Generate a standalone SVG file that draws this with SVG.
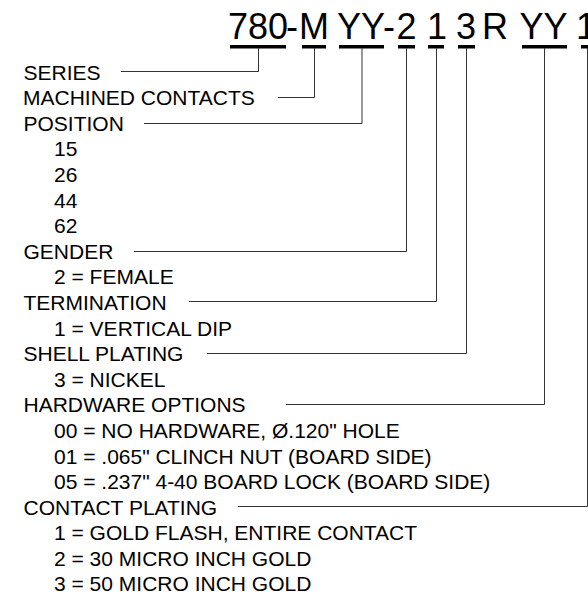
<svg xmlns="http://www.w3.org/2000/svg" width="588" height="592" viewBox="0 0 588 592">
<style>
.t{font-family:"Liberation Sans",Arial,sans-serif;font-size:21px;fill:#000}
.title{font-family:"Liberation Sans",Arial,sans-serif;font-size:36px;fill:#000}
.ul{fill:#000}
.c{fill:none;stroke:#333;stroke-width:1}
</style>
<rect width="588" height="592" fill="#fff"/>
<g id="part-number">
<text class="title" y="38.5" text-anchor="middle"><tspan x="258">780</tspan><tspan x="292">-</tspan><tspan x="314">M</tspan><tspan x="361">YY</tspan><tspan x="389">-</tspan><tspan x="406.5">2</tspan><tspan x="437">1</tspan><tspan x="466">3</tspan><tspan x="495">R</tspan><tspan x="543.5">YY</tspan><tspan x="586">1</tspan></text>
<rect class="ul" x="230" y="45" width="56" height="3.5"/>
<rect class="ul" x="302" y="45" width="24" height="3.5"/>
<rect class="ul" x="339" y="45" width="45" height="3.5"/>
<rect class="ul" x="398" y="45" width="17" height="3.5"/>
<rect class="ul" x="428" y="45" width="16" height="3.5"/>
<rect class="ul" x="458" y="45" width="17" height="3.5"/>
<rect class="ul" x="522" y="45" width="45" height="3.5"/>
<rect class="ul" x="581" y="45" width="16" height="3.5"/>
</g>
<g id="series"><text class="t" x="23.5" y="79.5">SERIES</text></g>
<g id="machined"><text class="t" x="23" y="105.1">MACHINED CONTACTS</text></g>
<g id="position">
<text class="t" x="23.5" y="130.7">POSITION</text>
<text class="t" x="54" y="156.3">15</text>
<text class="t" x="54" y="181.9">26</text>
<text class="t" x="54" y="207.5">44</text>
<text class="t" x="54" y="233.1">62</text>
</g>
<g id="gender">
<text class="t" x="23.5" y="258.7">GENDER</text>
<text class="t" x="54" y="284.3">2 = FEMALE</text>
</g>
<g id="termination">
<text class="t" x="23.5" y="309.9">TERMINATION</text>
<text class="t" x="54" y="335.5">1 = VERTICAL DIP</text>
</g>
<g id="shell-plating">
<text class="t" x="23.5" y="361.1">SHELL PLATING</text>
<text class="t" x="54" y="386.7">3 = NICKEL</text>
</g>
<g id="hardware">
<text class="t" x="23.5" y="412.3">HARDWARE OPTIONS</text>
<text class="t" x="54" y="437.9">00 = NO HARDWARE, Ø.120" HOLE</text>
<text class="t" x="54" y="463.5">01 = .065" CLINCH NUT (BOARD SIDE)</text>
<text class="t" x="54" y="489.1">05 = .237" 4-40 BOARD LOCK (BOARD SIDE)</text>
</g>
<g id="contact-plating">
<text class="t" x="23.5" y="514.7">CONTACT PLATING</text>
<text class="t" x="54" y="540.3">1 = GOLD FLASH, ENTIRE CONTACT</text>
<text class="t" x="54" y="565.9">2 = 30 MICRO INCH GOLD</text>
<text class="t" x="54" y="591">3 = 50 MICRO INCH GOLD</text>
</g>
<g id="connectors">
<polyline class="c" points="121,71.5 258.5,71.5 258.5,48"/>
<polyline class="c" points="278,97.5 314.5,97.5 314.5,48"/>
<polyline class="c" points="144,123.5 362,123.5 362,48"/>
<polyline class="c" points="134,251.5 406.5,251.5 406.5,48"/>
<polyline class="c" points="189,301.5 436.5,301.5 436.5,48"/>
<polyline class="c" points="207,353.5 466.5,353.5 466.5,48"/>
<polyline class="c" points="286,404.5 544.5,404.5 544.5,48"/>
<polyline class="c" points="238,506.5 587.5,506.5 587.5,48"/>
</g>
</svg>
